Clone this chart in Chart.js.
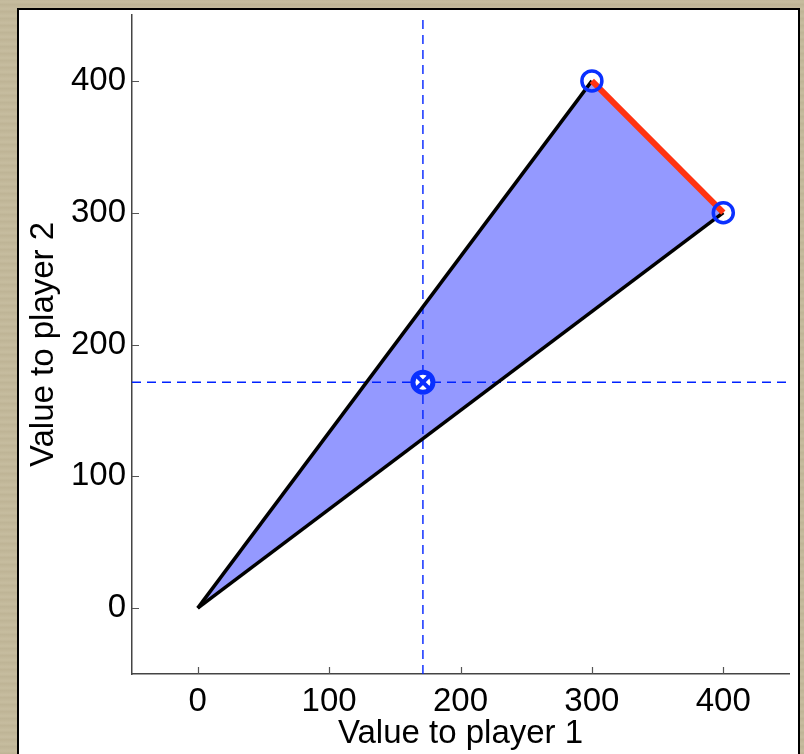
<!DOCTYPE html>
<html>
<head>
<meta charset="utf-8">
<script src="https://cdn.jsdelivr.net/npm/chart.js@4.4.1/dist/chart.umd.min.js"></script>
<style>
    html, body {
        margin: 0;
        padding: 0;
        width: 804px;
        height: 754px;
        overflow: hidden;
        background: #c3b99b;
        background-image: repeating-linear-gradient(0deg, rgba(120, 105, 70, 0.08) 0px, rgba(255, 250, 230, 0.06) 3px, rgba(120, 105, 70, 0.05) 7px);
    }
    #panel {
        position: absolute;
        left: 17px;
        top: 8px;
        width: 779px;
        height: 800px;
        background: #ffffff;
        border: 2px solid #000000;
        border-bottom: none;
    }
    #bargainChart {
        position: absolute;
        left: 0;
        top: 0;
    }
</style>
</head>
<body>
<div id="panel"></div>
<canvas id="bargainChart" width="804" height="754"></canvas>
<script>
// values
const origin = [0, 0];
const pointA = [300, 400];
const pointB = [400, 300];
const solution = [171.4, 171.4];
const xTicks = [0, 100, 200, 300, 400];
const yTicks = [0, 100, 200, 300, 400];
const axisMin = -50;
const axisMax = 450;

const fontFamily = "'Liberation Sans', Arial, Helvetica, sans-serif";

function pt(p) {
    return { x: p[0], y: p[1] };
}

// inward tick marks, matlab style
const innerTicks = {
    id: 'innerTicks',
    afterDraw: function (chart) {
        const ctx = chart.ctx;
        const xs = chart.scales.x;
        const ys = chart.scales.y;
        const area = chart.chartArea;
        ctx.save();
        ctx.strokeStyle = '#555555';
        ctx.lineWidth = 1.2;
        ctx.beginPath();
        xTicks.forEach(function (v) {
            const px = Math.round(xs.getPixelForValue(v)) + 0.5;
            ctx.moveTo(px, area.bottom);
            ctx.lineTo(px, area.bottom - 7);
        });
        yTicks.forEach(function (v) {
            const py = Math.round(ys.getPixelForValue(v)) + 0.5;
            ctx.moveTo(area.left, py);
            ctx.lineTo(area.left + 7, py);
        });
        ctx.stroke();
        ctx.restore();
    }
};

const blue = '#0a30ff';

new Chart(document.getElementById('bargainChart'), {
    type: 'scatter',
    data: {
        datasets: [
            {
                // solution marker: cross
                data: [pt(solution)],
                pointStyle: 'crossRot',
                pointRadius: 10,
                pointBorderWidth: 4,
                pointBorderColor: blue,
                showLine: false,
                order: 0
            },
            {
                data: [pt(solution)],
                pointStyle: 'circle',
                pointRadius: 10,
                pointBorderWidth: 5,
                pointBorderColor: blue,
                pointBackgroundColor: '#ffffff',
                showLine: false,
                order: 1
            },
            {
                data: [pt(pointA), pt(pointB)],
                pointStyle: 'circle',
                pointRadius: 10,
                pointBorderWidth: 3.5,
                pointBorderColor: blue,
                pointBackgroundColor: 'rgba(0,0,0,0)',
                showLine: false,
                order: 2
            },
            {
                data: [pt(pointA), pt(pointB)],
                showLine: true,
                borderColor: '#ff3311',
                borderWidth: 6,
                pointRadius: 0,
                order: 3
            },
            {
                data: [pt(origin), pt(pointA)],
                showLine: true,
                borderColor: '#000000',
                borderWidth: 3.5,
                pointRadius: 0,
                order: 4
            },
            {
                data: [pt(origin), pt(pointB)],
                showLine: true,
                borderColor: '#000000',
                borderWidth: 3.5,
                pointRadius: 0,
                order: 5
            },
            {
                data: [{ x: solution[0], y: axisMin }, { x: solution[0], y: axisMax }],
                showLine: true,
                borderColor: '#0022ff',
                borderWidth: 1.4,
                borderDash: [9, 6],
                pointRadius: 0,
                order: 6
            },
            {
                data: [{ x: axisMin, y: solution[1] }, { x: axisMax, y: solution[1] }],
                showLine: true,
                borderColor: '#0022ff',
                borderWidth: 1.4,
                borderDash: [9, 6],
                pointRadius: 0,
                order: 7
            },
            {
                // feasible region
                data: [pt(origin), pt(pointA), pt(pointB), pt(origin)],
                showLine: true,
                borderWidth: 0,
                borderColor: 'rgba(0,0,0,0)',
                backgroundColor: '#9499ff',
                fill: 'shape',
                pointRadius: 0,
                order: 8
            }
        ]
    },
    options: {
        responsive: false,
        animation: false,
        layout: {
            padding: { left: 0, top: 15, right: 11, bottom: 0 }
        },
        plugins: {
            legend: { display: false },
            tooltip: { enabled: false }
        },
        scales: {
            x: {
                type: 'linear',
                min: axisMin,
                max: axisMax,
                afterBuildTicks: function (scale) {
                    scale.ticks = xTicks.map(function (v) { return { value: v }; });
                },
                afterFit: function (scale) {
                    scale.height = 80;
                    scale.paddingLeft = 0;
                    scale.paddingRight = 0;
                },
                grid: { display: true, drawOnChartArea: false, drawTicks: false },
                border: { display: true, color: '#444444', width: 1.5 },
                ticks: {
                    color: '#000000',
                    padding: 8,
                    maxRotation: 0,
                    font: { family: fontFamily, size: 33 }
                },
                title: {
                    display: true,
                    text: 'Value to player 1',
                    color: '#000000',
                    padding: { top: 0, bottom: 0 },
                    font: { family: fontFamily, size: 33 }
                }
            },
            y: {
                type: 'linear',
                min: axisMin,
                max: axisMax,
                afterBuildTicks: function (scale) {
                    scale.ticks = yTicks.map(function (v) { return { value: v }; });
                },
                afterFit: function (scale) {
                    scale.width = 132;
                    scale.paddingTop = 0;
                    scale.paddingBottom = 0;
                },
                grid: { display: true, drawOnChartArea: false, drawTicks: false },
                border: { display: true, color: '#444444', width: 1.5 },
                ticks: {
                    color: '#000000',
                    padding: 6,
                    font: { family: fontFamily, size: 33 }
                },
                title: {
                    display: true,
                    text: 'Value to player 2',
                    color: '#000000',
                    padding: { top: 24, bottom: 0 },
                    font: { family: fontFamily, size: 33 }
                }
            }
        }
    },
    plugins: [innerTicks]
});
</script>
</body>
</html>
